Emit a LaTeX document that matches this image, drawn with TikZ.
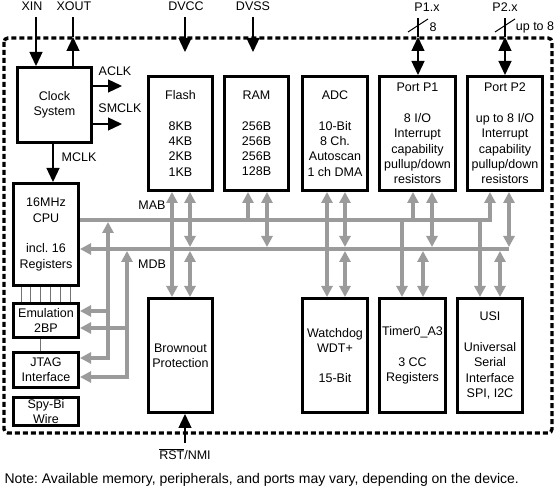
\documentclass[tikz,border=0pt]{standalone}
\usepackage{fontspec}
\setmainfont{Liberation Sans}
\usetikzlibrary{positioning, arrows.meta}
\definecolor{busgray}{RGB}{155,155,155}
\frenchspacing
\tikzset{
    >={Triangle[length=14pt,width=13pt]}, % black signal heads
    every node/.style={font=\fontsize{12.5}{15.3}\selectfont},
    block/.style={draw, line width=2.6pt, align=center, inner sep=0pt}, % the module boxes
    upper/.style={minimum height=114.4pt},
    lower/.style={minimum height=114.4pt},
    sig/.style={line width=1.3pt},
    bus/.style={draw=busgray, line width=4pt, >={Triangle[length=11pt,width=11pt]}},
    link/.style={draw=black!55, line width=0.8pt},
    frame/.style={line width=3.4pt, dash pattern=on 5pt off 3pt, rounded corners=4pt},
}

\begin{document}
\begin{tikzpicture}[x=1pt, y=-1pt]
        \useasboundingbox (0,0) rectangle (555,489);
        % Chip outline
        \draw[frame] (4,38) rectangle (552,433);

        % Nodes
        \node[block, minimum width=74.4pt, minimum height=75.4pt] (Clk) at (54.5,105) {Clock\\System};
        \node[block, minimum width=65.4pt, minimum height=102.4pt] (CPU) at (46,234.5) {16MHz\\CPU\\[15.3pt]incl. 16\\Registers};
        \node[block, below=15pt of CPU, minimum width=65.4pt, minimum height=34.4pt] (EMU) {Emulation\\2BP};
        \node[block, below=12pt of EMU, minimum width=65.4pt, minimum height=35.4pt] (JTAG) {JTAG\\Interface};
        \node[block, below=7pt of JTAG, minimum width=65.4pt, minimum height=28.4pt] (SBW) {Spy-Bi\\Wire};

        \node[block, upper, minimum width=64.4pt] (Flash) at (180.5,133.5) {Flash\\[15.3pt]8KB\\4KB\\2KB\\1KB};
        \node[block, upper, right=9pt of Flash, minimum width=64.4pt] (RAM) {RAM\\[15.3pt]256B\\256B\\256B\\128B};
        \node[block, upper, right=11pt of RAM, minimum width=65.4pt] (ADC) {ADC\\[15.3pt]10-Bit\\8 Ch.\\Autoscan\\1 ch DMA};
        \node[block, upper, right=9pt of ADC, minimum width=76.4pt] (P1) {Port P1\\[15.3pt]8 I/O\\Interrupt\\capability\\pullup/down\\resistors};
        \node[block, upper, right=9pt of P1, minimum width=75.4pt] (P2) {Port P2\\[15.3pt]up to 8 I/O\\Interrupt\\capability\\pullup/down\\resistors};

        \node[block, lower, below=105pt of Flash, minimum width=64.4pt] (BOR) {Brownout\\Protection};
        \node[block, lower, below=105pt of ADC, minimum width=65.4pt] (WDT) {Watchdog\\WDT+\\[15.3pt]15-Bit};
        \node[block, lower, right=9pt of WDT, minimum width=66.4pt] (TA) {Timer0\_A3\\[15.3pt]3 CC\\Registers};
        \node[block, lower, right=9pt of TA, minimum width=65.4pt] (USI) {USI\\[15.3pt]Universal\\Serial\\Interface\\SPI, I2C};

        % Labels
        \node (XIN) at (32,6) {XIN};
        \node (XOUT) at (74,6) {XOUT};
        \node (DVCC) at (186,6) {DVCC};
        \node (DVSS) at (253,6) {DVSS};
        \node (P1x) at (427,7) {P1.x};
        \node (P2x) at (505,7) {P2.x};
        \node (P1n) at (433,27) {8};
        \node (P2n) at (535,27) {up to 8};
        \node (ACLK) at (115,71) {ACLK};
        \node (SMCLK) at (120,108) {SMCLK};
        \node (MCLK) at (79,157) {MCLK};
        \node (MAB) at (152,205) {MAB};
        \node (MDB) at (152,264) {MDB};
        \node (RST) at (185,454) {$\overline{\mbox{RST}}$/NMI};
        \node[anchor=west, font=\fontsize{14}{16}\selectfont] (Note) at (1,480) {Note: Available memory, peripherals, and ports may vary, depending on the device.};

        % Pins
        \coordinate (xin) at (36,17);
        \coordinate (xout) at (73,17);
        \coordinate (xoutpin) at (73,37);
        \coordinate (aclk) at (122,86);
        \coordinate (smclk) at (122,124);
        \coordinate (mclk) at (53,0);
        \coordinate (dvcc) at (185,17);
        \coordinate (dvccpin) at (185,52);
        \coordinate (dvss) at (253,17);
        \coordinate (dvsspin) at (253,52);
        \coordinate (p1x) at (418,18);
        \coordinate (p1pin) at (418,37);
        \coordinate (p2x) at (505,18);
        \coordinate (p2pin) at (505,37);
        \coordinate (rst) at (185,443);

        % Draw lines
        \draw[sig, ->] (xin) -- (xin |- Clk.north);
        \draw[sig, ->] (xout |- Clk.north) -- (xoutpin);
        \draw[sig] (xoutpin) -- (xout);
        \draw[sig, ->] (Clk.east |- aclk) -- (aclk);
        \draw[sig, ->] (Clk.east |- smclk) -- (smclk);
        \draw[sig, ->] (mclk |- Clk.south) -- (mclk |- CPU.north);
        \draw[sig, ->] (dvcc) -- (dvccpin);
        \draw[sig, ->] (dvss) -- (dvsspin);
        \draw[sig] (p1x) -- (p1pin);
        \draw[sig, <->] (p1pin) -- (p1pin |- P1.north);
        \draw[sig] (p2x) -- (p2pin);
        \draw[sig, <->] (p2pin) -- (p2pin |- P2.north);
        \draw[line width=1pt] (408,32) -- (428,19);
        \draw[line width=1pt] (495,32) -- (515,19);
        \draw[sig, ->] (rst) -- (rst |- BOR.south);

        % Debug links
        \foreach \x in {9,18,28,38,48,58}
            \draw[link] ([xshift=\x pt]CPU.south west) -- ([xshift=\x pt]EMU.north west);
        \draw[link] ([xshift=28pt]EMU.south west) -- ([xshift=28pt]JTAG.north west);

        % Buses
        \coordinate (mabln) at (0,220);
        \coordinate (mabbot) at (0,222);
        \coordinate (mdbln) at (0,249);
        \coordinate (mdbtop) at (0,247);
        \coordinate (mdbbot) at (0,251);
        \coordinate (ca1) at (172,0); \coordinate (cd1) at (190,0);
        \coordinate (ca2) at (248,0); \coordinate (cd2) at (267,0);
        \coordinate (ca3) at (327,0); \coordinate (cd3) at (345,0);
        \coordinate (ca4) at (413,0); \coordinate (cd4) at (432,0);
        \coordinate (ca5) at (490,0); \coordinate (cd5) at (509,0);
        \coordinate (ca6) at (402,0); \coordinate (cd6) at (423,0);
        \coordinate (ca7) at (480,0); \coordinate (cd7) at (500,0);
        \coordinate (la) at (108,0); \coordinate (ld) at (127,0);
        \coordinate (em1) at (0,311); \coordinate (em2) at (0,328);
        \coordinate (jt1) at (0,358); \coordinate (jt2) at (0,377);

        \draw[bus, ->] (CPU.east |- mabln) -- (ca5 |- mabln) -- (ca5 |- P2.south);
        \draw[bus, ->] (cd5 |- mdbln) -- (CPU.east |- mdbln);

        \draw[bus, <->] (ca1 |- Flash.south) -- (ca1 |- BOR.north);
        \draw[bus, <->] (cd1 |- Flash.south) -- (cd1 |- mdbtop);
        \draw[bus, <->] (cd1 |- mdbbot) -- (cd1 |- BOR.north);
        \draw[bus, ->] (ca2 |- mabln) -- (ca2 |- RAM.south);
        \draw[bus, <->] (cd2 |- RAM.south) -- (cd2 |- mdbtop);
        \draw[bus, <->] (ca3 |- ADC.south) -- (ca3 |- WDT.north);
        \draw[bus, <->] (cd3 |- ADC.south) -- (cd3 |- mdbtop);
        \draw[bus, <->] (cd3 |- mdbbot) -- (cd3 |- WDT.north);
        \draw[bus, ->] (ca4 |- mabln) -- (ca4 |- P1.south);
        \draw[bus, <->] (cd4 |- P1.south) -- (cd4 |- mdbtop);
        \draw[bus, <->] (cd5 |- P2.south) -- (cd5 |- mdbtop);
        \draw[bus, ->] (ca6 |- mabln) -- (ca6 |- TA.north);
        \draw[bus, <->] (cd6 |- mdbbot) -- (cd6 |- TA.north);
        \draw[bus, ->] (ca7 |- mabln) -- (ca7 |- USI.north);
        \draw[bus, <->] (cd7 |- mdbbot) -- (cd7 |- USI.north);

        \draw[bus, <->] (la |- mabbot) -- (la |- jt1) -- (JTAG.east |- jt1);
        \draw[bus, ->] (la |- em1) -- (EMU.east |- em1);
        \draw[bus, <->] (ld |- mdbbot) -- (ld |- jt2) -- (JTAG.east |- jt2);
        \draw[bus, ->] (ld |- em2) -- (EMU.east |- em2);
    \end{tikzpicture}
\end{document}
